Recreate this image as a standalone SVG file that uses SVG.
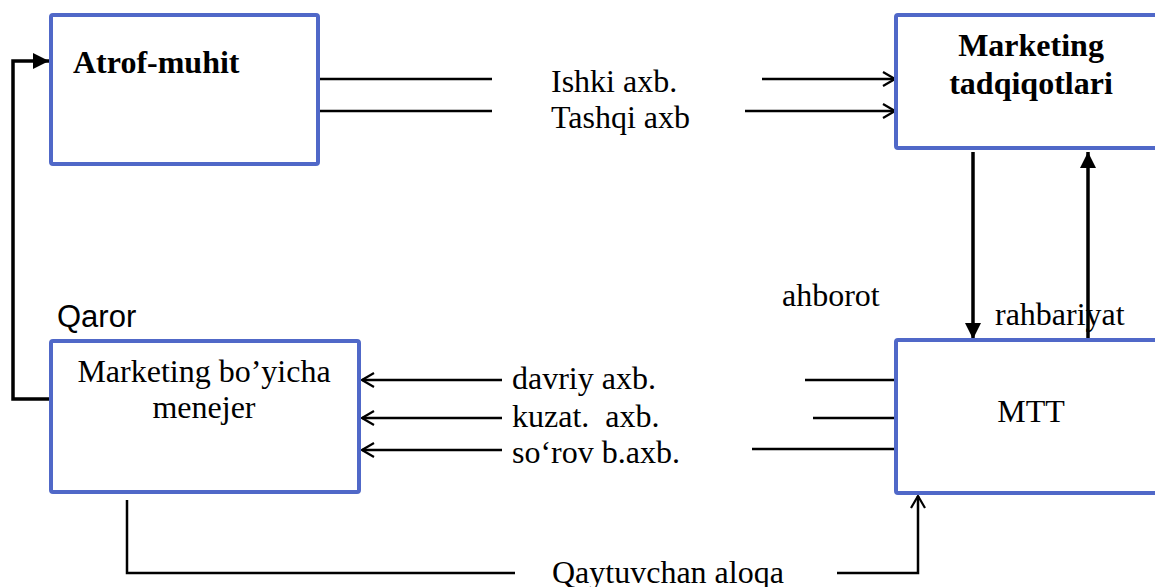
<svg xmlns="http://www.w3.org/2000/svg" width="1155" height="587" viewBox="0 0 1155 587">
  <style>
    .box { fill: #ffffff; stroke: #5068C8; stroke-width: 4; }
    .t { font-family: "Liberation Serif", "Times New Roman", serif; font-size: 32px; fill: #000; }
    .tb { font-family: "Liberation Serif", "Times New Roman", serif; font-size: 32px; font-weight: bold; fill: #000; }
    .ts { font-family: "Liberation Sans", Arial, sans-serif; font-size: 31px; fill: #000; }
    .thin { fill: none; stroke: #000; stroke-width: 2.5; }
    .thick { fill: none; stroke: #000; stroke-width: 3.5; }
  </style>
  <defs>
    <marker id="open" viewBox="0 0 14 16" refX="13" refY="8" markerWidth="14" markerHeight="16" markerUnits="userSpaceOnUse" orient="auto">
      <path d="M1,1 L13,8 L1,15" fill="none" stroke="#000" stroke-width="2.2"/>
    </marker>
    <marker id="solid" viewBox="0 0 16 16" refX="16" refY="8" markerWidth="16" markerHeight="16" markerUnits="userSpaceOnUse" orient="auto">
      <path d="M0,0 L16,8 L0,16 Z" fill="#000"/>
    </marker>
  </defs>

  <g id="connectors">
    <!-- Atrof-muhit to Marketing tadqiqotlari -->
    <line class="thin" x1="320" y1="79" x2="492" y2="79"/>
    <line class="thin" x1="320" y1="111" x2="492" y2="111"/>
    <line class="thin" x1="762" y1="79" x2="895" y2="79" marker-end="url(#open)"/>
    <line class="thin" x1="745" y1="111" x2="895" y2="111" marker-end="url(#open)"/>
    <!-- vertical between Marketing tadqiqotlari and MTT -->
    <line class="thick" x1="973" y1="152" x2="973" y2="339" marker-end="url(#solid)"/>
    <line class="thick" x1="1088" y1="341" x2="1088" y2="152" marker-end="url(#solid)"/>
    <!-- MTT to menejer -->
    <line class="thin" x1="502" y1="380" x2="362" y2="380" marker-end="url(#open)"/>
    <line class="thin" x1="502" y1="418" x2="362" y2="418" marker-end="url(#open)"/>
    <line class="thin" x1="502" y1="450" x2="362" y2="450" marker-end="url(#open)"/>
    <line class="thin" x1="805" y1="380" x2="895" y2="380"/>
    <line class="thin" x1="813" y1="418" x2="895" y2="418"/>
    <line class="thin" x1="752" y1="449" x2="895" y2="449"/>
    <!-- feedback bottom -->
    <polyline class="thin" points="127,500 127,573 515,573"/>
    <polyline class="thin" points="837,573 918,573 918,496" marker-end="url(#open)"/>
    <!-- decision left -->
    <polyline class="thick" points="49,399 13,399 13,61 49,61" marker-end="url(#solid)"/>
  </g>

  <g id="atrof-muhit">
    <rect class="box" x="51" y="15" width="267" height="149" rx="2"/>
    <text class="tb" x="73" y="73">Atrof-muhit</text>
  </g>

  <g id="marketing-tadqiqotlari">
    <rect class="box" x="896" y="15" width="300" height="133" rx="2"/>
    <text class="tb" x="1031" y="56" text-anchor="middle">Marketing</text>
    <text class="tb" x="1031" y="94" text-anchor="middle">tadqiqotlari</text>
  </g>

  <g id="menejer">
    <rect class="box" x="51" y="341" width="308" height="151" rx="2"/>
    <text class="t" x="204" y="382" text-anchor="middle">Marketing bo’yicha</text>
    <text class="t" x="204" y="418" text-anchor="middle">menejer</text>
  </g>

  <g id="mtt">
    <rect class="box" x="896" y="340" width="300" height="153" rx="2"/>
    <text class="t" x="1031" y="422" text-anchor="middle">MTT</text>
  </g>

  <g id="labels">
    <text class="t" x="551" y="92">Ishki axb.</text>
    <text class="t" x="551" y="128">Tashqi axb</text>
    <text class="t" x="782" y="306">ahborot</text>
    <text class="t" x="995" y="325">rahbariyat</text>
    <text class="ts" x="57" y="327">Qaror</text>
    <text class="t" x="512" y="389">davriy axb.</text>
    <text class="t" x="512" y="427" xml:space="preserve" style="white-space:pre">kuzat.  axb.</text>
    <text class="t" x="512" y="463">so‘rov b.axb.</text>
    <text class="t" x="552" y="583">Qaytuvchan aloqa</text>
  </g>
</svg>
